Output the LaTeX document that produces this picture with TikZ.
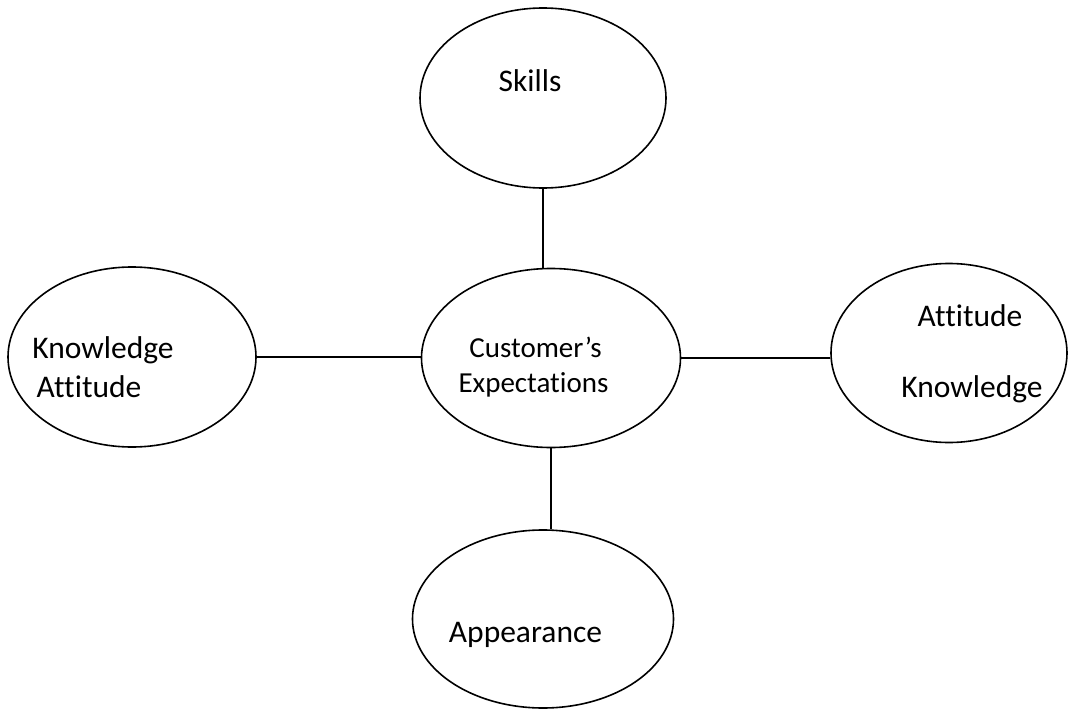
\documentclass[tikz,border=0pt]{standalone}
\usepackage{fontspec}
\setmainfont[Ligatures=NoCommon]{Carlito}
\usetikzlibrary{shapes.geometric}

\begin{document}
\begin{tikzpicture}[x=1pt, y=-1pt,
	bubble/.style = {draw, ellipse, line width=1.6pt, inner sep=0pt},
	words/.style = {anchor=base, inner sep=0pt, font=\fontsize{31.5}{38}\selectfont},
	smallwords/.style = {anchor=base, inner sep=0pt, font=\fontsize{29}{35}\selectfont},
	link/.style = {line width=1.8pt}]
	\useasboundingbox (0,0) rectangle (1069,709);

	\node [bubble, minimum width=246, minimum height=180] (skills) at (543,98) {};
	\node [bubble, minimum width=248, minimum height=180] (knowatt) at (132,357) {};
	\node [bubble, minimum width=259, minimum height=179] (cust) at (551,358) {};
	\node [bubble, minimum width=236, minimum height=179] (attknow) at (949,353) {};
	\node [bubble, minimum width=261, minimum height=178] (appear) at (543,619) {};

	\node [words] (skillstext) at (530,92) {Skills};
	\node [words] (lknow) at (103,358) {Knowledge};
	\node [words] (latt) at (89,397) {Attitude};
	\node [smallwords] (custtext) at (535.5,357) {Customer’s};
	\node [smallwords] (expecttext) at (533.5,392) {Expectations};
	\node [words] (ratt) at (970,326) {Attitude};
	\node [words] (rknow) at (972,397) {Knowledge};
	\node [words] (appeartext) at (525.5,642) {Appearance};

	\draw [link] (skills.south) -- (skills.south |- cust.north);
	\draw [link] (knowatt.east) -- (knowatt.east -| cust.west);
	\draw [link] (cust.east) -- (cust.east -| attknow.west);
	\draw [link] (cust.south) -- (cust.south |- appear.north);
\end{tikzpicture}
\end{document}
